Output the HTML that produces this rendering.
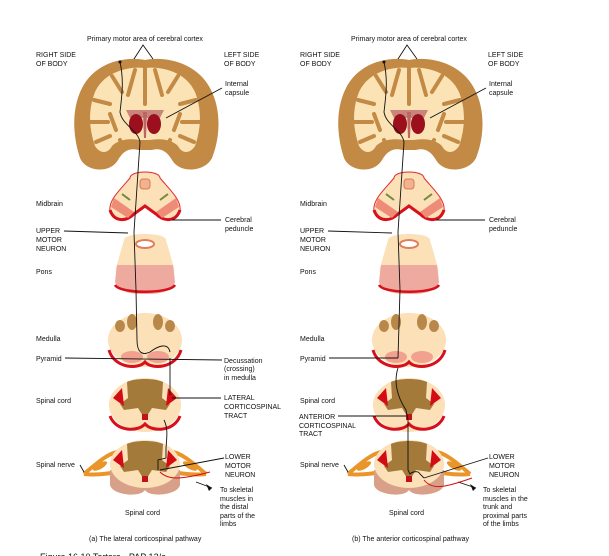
<!DOCTYPE html>
<html><head><meta charset="utf-8"><style>
html,body{margin:0;padding:0;background:#fff;}
svg{display:block;}
text{font-family:"Liberation Sans",sans-serif;font-size:7px;fill:#111;}
</style></head><body>
<svg width="609" height="556" viewBox="0 0 609 556" xmlns="http://www.w3.org/2000/svg">
<defs>
<g id="art">
  <!-- brain -->
  <path d="M145,60 C125,56 95,62 82,88 C70,112 74,140 80,158 C86,172 110,174 118,160 C124,150 130,148 138,150 L152,150 C160,148 166,150 172,160 C180,174 205,172 212,158 C220,138 222,110 210,88 C196,62 165,56 145,60 Z" fill="#c28a45"/>
  <path d="M145,68 C128,66 104,72 95,92 C87,112 90,132 95,146 C100,154 108,154 112,146 C118,140 128,138 140,140 L150,140 C162,138 172,140 178,146 C182,154 190,154 195,146 C200,132 203,112 195,92 C186,72 162,66 145,68 Z" fill="#fbe3b6"/>
  <g stroke="#c28a45" stroke-width="4" fill="none" stroke-linecap="round">
    <path d="M145,62 L145,104"/><path d="M135,70 L128,95"/><path d="M155,70 L162,95"/>
    <path d="M112,76 L122,92"/><path d="M178,76 L168,92"/><path d="M94,100 L110,104"/><path d="M196,100 L180,104"/>
    <path d="M90,122 L108,122"/><path d="M200,122 L182,122"/><path d="M96,142 L110,136"/><path d="M194,142 L180,136"/>
    <path d="M110,114 L116,130"/><path d="M180,114 L174,130"/>
    <path d="M120,140 L124,150"/><path d="M170,140 L166,150"/>
  </g>
  <path d="M126,110 L164,110 L160,118 L130,118 Z" fill="#c9857a"/>
  <ellipse cx="136" cy="124" rx="7" ry="10" fill="#9c0f1c"/>
  <ellipse cx="154" cy="124" rx="7" ry="10" fill="#9c0f1c"/>
  <path d="M143,112 L147,112 L146,138 L144,138 Z" fill="#b66"/>
  <!-- midbrain -->
  <path d="M130,178 C130,170 160,170 160,178 C170,190 182,200 180,212 C176,222 166,222 158,214 L145,206 L132,214 C124,222 114,222 110,212 C108,200 120,190 130,178 Z" fill="#fbe0b8" stroke="#e02a30" stroke-width="1"/>
  <path d="M110,210 C114,222 126,222 134,214 L145,206 L156,214 C164,222 176,222 180,210" fill="none" stroke="#d8101c" stroke-width="3"/>
  <path d="M114,198 L134,212 L128,218 L111,207Z" fill="#ee8c78"/><path d="M176,198 L156,212 L162,218 L179,207Z" fill="#ee8c78"/>
  <path d="M122,194 L130,200" stroke="#6f8a3a" stroke-width="2"/><path d="M168,194 L160,200" stroke="#6f8a3a" stroke-width="2"/>
  <rect x="140" y="179" width="10" height="10" rx="3" fill="#f2b190" stroke="#d87a50"/>
  <!-- pons -->
  <path d="M124,240 C124,232 166,232 166,240 L174,268 C176,288 168,294 145,294 C122,294 114,288 116,268 Z" fill="#fbe0b8"/>
  <path d="M117,265 L173,265 L175,282 C172,292 160,294 145,294 C130,294 118,292 115,282 Z" fill="#efaaa0"/>
  <path d="M115,285 C120,294 170,294 175,285" stroke="#d8101c" stroke-width="2.5" fill="none"/>
  <ellipse cx="145" cy="244" rx="9" ry="4" fill="#fff" stroke="#e0805a" stroke-width="2"/>
  <!-- medulla -->
  <ellipse cx="145" cy="340" rx="37" ry="27" fill="#fbe0b8"/>
  <ellipse cx="132" cy="322" rx="5" ry="8" fill="#b8884a"/><ellipse cx="158" cy="322" rx="5" ry="8" fill="#b8884a"/>
  <ellipse cx="120" cy="326" rx="5" ry="6" fill="#b8884a"/><ellipse cx="170" cy="326" rx="5" ry="6" fill="#b8884a"/>
  <ellipse cx="132" cy="357" rx="11" ry="6" fill="#f2a090"/><ellipse cx="158" cy="357" rx="11" ry="6" fill="#f2a090"/>
  <path d="M109,350 C114,368 138,370 145,362 C152,370 176,368 181,350" stroke="#d8101c" stroke-width="3" fill="none"/>
  <!-- spinal cord -->
  <ellipse cx="145" cy="405" rx="36" ry="27" fill="#fbe0b8"/>
  <path d="M127,382 C135,378 155,378 163,382 L162,398 L170,404 L166,410 L152,408 L147,416 L143,416 L138,408 L124,410 L120,404 L128,398 Z" fill="#a47a3a"/>
  <path d="M113,398 L122,388 L124,406 Z" fill="#d40a14"/><path d="M177,398 L168,388 L166,406 Z" fill="#d40a14"/>
  <rect x="142" y="414" width="6" height="6" fill="#c41018"/>
  <path d="M110,416 C116,432 138,432 145,424 C152,432 174,432 180,416" stroke="#d8101c" stroke-width="3" fill="none"/>
  <!-- lower cord with nerves -->
  <path d="M84,474 C98,462 112,450 122,452 M84,474 C100,476 118,472 124,470 M206,474 C192,462 178,450 168,452 M206,474 C190,476 172,472 166,470" stroke="#e9952a" stroke-width="4" fill="none"/>
  <ellipse cx="100" cy="466" rx="8" ry="3" fill="#e9952a" transform="rotate(-30 100 466)"/>
  <ellipse cx="190" cy="466" rx="8" ry="3" fill="#e9952a" transform="rotate(30 190 466)"/>
  <path d="M110,470 L110,485 C112,495 140,498 145,490 C150,498 178,495 180,485 L180,470Z" fill="#d8a088"/>
  <ellipse cx="145" cy="464" rx="35" ry="24" fill="#fbe0b8"/>
  <path d="M127,444 C135,440 155,440 163,444 L162,460 L170,466 L166,472 L152,470 L147,478 L143,478 L138,470 L124,472 L120,466 L128,460 Z" fill="#a47a3a"/>
  <path d="M113,460 L122,450 L124,468 Z" fill="#d40a14"/><path d="M177,460 L168,450 L166,468 Z" fill="#d40a14"/>
  <rect x="142" y="476" width="6" height="6" fill="#c41018"/>
</g>
</defs>

<use href="#art"/>
<use href="#art" x="264"/>

<!-- Panel A lines -->
<g stroke="#111" stroke-width="0.9" fill="none">
  <path d="M134,59 L143,45 L153,59"/>
  <path d="M120,62 C124,80 122,95 120,112 C122,125 138,130 140,142 C138,170 136,200 134,232 L136,290 L137,340 C137,352 142,356 150,352 C158,346 168,342 170,352"/>
  <path d="M170,358 L170,395"/>
  <path d="M164,420 C168,428 167,436 166,448 L166,458 L158,460 L158,470"/>
  <path d="M222,88 L166,118"/>
  <path d="M64,231 L128,233"/>
  <path d="M172,220 L221,220"/>
  <path d="M65,358 L222,360"/>
  <path d="M172,398 L221,398"/>
  <path d="M224,458 L160,470"/>
  <path d="M80,465 L84,472"/>
  <path d="M196,482 L212,488"/>
</g>
<path d="M160,472 C168,480 180,480 210,472" stroke="#d01010" stroke-width="1" fill="none"/>
<path d="M212,488 L206,484 L209,491Z" fill="#111"/>
<circle cx="120" cy="62" r="1.5" fill="#111"/>

<!-- Panel B lines -->
<g stroke="#111" stroke-width="0.9" fill="none">
  <path d="M398,59 L407,45 L417,59"/>
  <path d="M384,62 C388,80 386,95 384,112 C386,125 402,130 404,142 C402,170 400,200 398,232 L400,290 L398,358"/>
  <path d="M398,368 C394,380 396,395 406,410 L408,420 L408,470 L410,474 C412,472 418,470 420,474 L424,478"/>
  <path d="M486,88 L430,118"/>
  <path d="M328,231 L392,233"/>
  <path d="M436,220 L485,220"/>
  <path d="M329,358 L398,358"/>
  <path d="M338,416 L406,416"/>
  <path d="M488,458 L424,478"/>
  <path d="M344,465 L348,472"/>
  <path d="M458,482 L476,488"/>
</g>
<path d="M424,480 C432,490 444,488 472,478" stroke="#d01010" stroke-width="1" fill="none"/>
<path d="M476,488 L470,484 L473,491Z" fill="#111"/>
<circle cx="384" cy="62" r="1.5" fill="#111"/>

<!-- Panel A text -->
<text x="87" y="41">Primary motor area of cerebral cortex</text>
<text x="36" y="57">RIGHT SIDE</text><text x="36" y="66">OF BODY</text>
<text x="224" y="57">LEFT SIDE</text><text x="224" y="66">OF BODY</text>
<text x="225" y="86">Internal</text><text x="225" y="95">capsule</text>
<text x="36" y="206">Midbrain</text>
<text x="225" y="222">Cerebral</text><text x="225" y="231">peduncle</text>
<text x="36" y="233">UPPER</text><text x="36" y="242">MOTOR</text><text x="36" y="251">NEURON</text>
<text x="36" y="274">Pons</text>
<text x="36" y="341">Medulla</text>
<text x="36" y="361">Pyramid</text>
<text x="224" y="363">Decussation</text><text x="224" y="371">(crossing)</text><text x="224" y="380">in medulla</text>
<text x="36" y="403">Spinal cord</text>
<text x="224" y="400">LATERAL</text><text x="224" y="409">CORTICOSPINAL</text><text x="224" y="418">TRACT</text>
<text x="36" y="467">Spinal nerve</text>
<text x="225" y="459">LOWER</text><text x="225" y="468">MOTOR</text><text x="225" y="477">NEURON</text>
<text x="220" y="492">To skeletal</text><text x="220" y="501">muscles in</text><text x="220" y="509">the distal</text><text x="220" y="518">parts of the</text><text x="220" y="526">limbs</text>
<text x="125" y="515">Spinal cord</text>
<text x="89" y="541">(a) The lateral corticospinal pathway</text>
<text x="40" y="560" style="font-size:9px">Figure 16.10  Tortora - PAP 12/e</text>

<!-- Panel B text -->
<text x="351" y="41">Primary motor area of cerebral cortex</text>
<text x="300" y="57">RIGHT SIDE</text><text x="300" y="66">OF BODY</text>
<text x="488" y="57">LEFT SIDE</text><text x="488" y="66">OF BODY</text>
<text x="489" y="86">Internal</text><text x="489" y="95">capsule</text>
<text x="300" y="206">Midbrain</text>
<text x="489" y="222">Cerebral</text><text x="489" y="231">peduncle</text>
<text x="300" y="233">UPPER</text><text x="300" y="242">MOTOR</text><text x="300" y="251">NEURON</text>
<text x="300" y="274">Pons</text>
<text x="300" y="341">Medulla</text>
<text x="300" y="361">Pyramid</text>
<text x="300" y="403">Spinal cord</text>
<text x="299" y="419">ANTERIOR</text><text x="299" y="428">CORTICOSPINAL</text><text x="299" y="436">TRACT</text>
<text x="300" y="467">Spinal nerve</text>
<text x="489" y="459">LOWER</text><text x="489" y="468">MOTOR</text><text x="489" y="477">NEURON</text>
<text x="483" y="492">To skeletal</text><text x="483" y="501">muscles in the</text><text x="483" y="509">trunk and</text><text x="483" y="518">proximal parts</text><text x="483" y="526">of the limbs</text>
<text x="389" y="515">Spinal cord</text>
<text x="352" y="541">(b) The anterior corticospinal pathway</text>
</svg>
</body></html>
